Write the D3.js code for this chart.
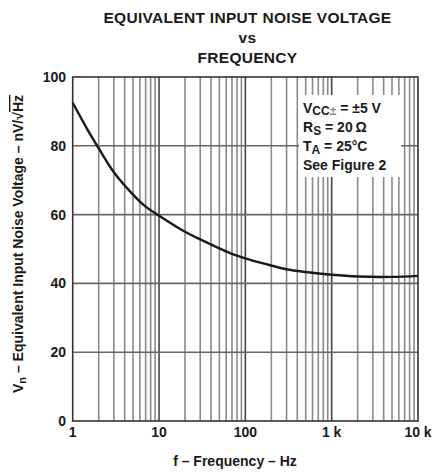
<!DOCTYPE html>
<html>
<head>
<meta charset="utf-8">
<script src="https://cdn.jsdelivr.net/npm/d3@7"></script>
<style>
  body { margin: 0; background: #fff; }
  text { font-family: "Liberation Sans", Arial, sans-serif; font-weight: bold; fill: #1a1a1a; }
</style>
</head>
<body>
<script>
// curve
const freqs  = [1, 1.5, 2, 3, 5, 7, 10, 20, 30, 50, 70, 100, 200, 300, 500, 1000, 2000, 5000, 10000];
const vnoise = [92.5, 84.5, 79.3, 72.3, 65.8, 62.3, 59.7, 55, 52.8, 50.2, 48.6, 47.3, 45.2, 44.1, 43.3, 42.5, 42.0, 41.9, 42.2];

const yTicks = [0, 20, 40, 60, 80, 100];
const xTickVals = [1, 10, 100, 1000, 10000];
const xTickLabels = ["1", "10", "100", "1 k", "10 k"];
const titleLines = ["EQUIVALENT INPUT NOISE VOLTAGE", "vs", "FREQUENCY"];

const W = 435, H = 472;
const plotL = 72.7, plotR = 418, plotT = 77, plotB = 421;

const svg = d3.select("body").append("svg")
    .attr("width", W)
    .attr("height", H);

const x = d3.scaleLog().domain([1, 10000]).range([plotL, plotR]);
const y = d3.scaleLinear().domain([0, 100]).range([plotB, plotT]);

// grid: all 1..9 lines per decade
let minorVals = [];
for (let d = 1; d < 10000; d *= 10) {
    for (let k = 2; k <= 9; k++) minorVals.push(d * k);
}
const majorVals = [10, 100, 1000];

const grid = svg.append("g");
grid.selectAll(".vminor")
    .data(minorVals)
    .enter().append("line")
    .attr("x1", d => x(d)).attr("x2", d => x(d))
    .attr("y1", plotT).attr("y2", plotB)
    .attr("stroke", "#8a8a8a")
    .attr("stroke-width", 1.6);

grid.selectAll(".vmajor")
    .data(majorVals)
    .enter().append("line")
    .attr("x1", d => x(d)).attr("x2", d => x(d))
    .attr("y1", plotT).attr("y2", plotB)
    .attr("stroke", "#444")
    .attr("stroke-width", 1.6);

grid.selectAll(".hgrid")
    .data(yTicks.slice(1, -1))
    .enter().append("line")
    .attr("x1", plotL).attr("x2", plotR)
    .attr("y1", d => y(d)).attr("y2", d => y(d))
    .attr("stroke", "#666")
    .attr("stroke-width", 1.6);

// legend box blanks out the grid
svg.append("rect")
    .attr("x", 299).attr("y", 95)
    .attr("width", 102).attr("height", 82)
    .attr("fill", "#fff");

// frame
svg.append("rect")
    .attr("x", plotL).attr("y", plotT)
    .attr("width", plotR - plotL).attr("height", plotB - plotT)
    .attr("fill", "none")
    .attr("stroke", "#333")
    .attr("stroke-width", 1.6);

// curve
const line = d3.line()
    .x((d, i) => x(freqs[i]))
    .y(d => y(d))
    .curve(d3.curveCatmullRom.alpha(0.5));

svg.append("path")
    .datum(vnoise)
    .attr("d", line)
    .attr("fill", "none")
    .attr("stroke", "#1a1a1a")
    .attr("stroke-width", 2.4);

// y tick labels
svg.selectAll(".ylab")
    .data(yTicks)
    .enter().append("text")
    .attr("x", 66)
    .attr("y", d => y(d))
    .attr("dy", "0.36em")
    .attr("text-anchor", "end")
    .style("font-size", "14px")
    .text(d => d);

// x tick labels
svg.selectAll(".xlab")
    .data(xTickVals)
    .enter().append("text")
    .attr("x", d => x(d))
    .attr("y", 437)
    .attr("text-anchor", "middle")
    .style("font-size", "14px")
    .text((d, i) => xTickLabels[i]);

// title
svg.selectAll(".title")
    .data(titleLines)
    .enter().append("text")
    .attr("x", 247.5)
    .attr("y", (d, i) => 23 + i * 20)
    .attr("text-anchor", "middle")
    .style("font-size", "15.5px")
    .style("letter-spacing", "0.3px")
    .text(d => d);

// axis titles
svg.append("text")
    .attr("x", 235)
    .attr("y", 466)
    .attr("text-anchor", "middle")
    .style("font-size", "14px")
    .text("f \u2013 Frequency \u2013 Hz");

const yt = svg.append("text")
    .attr("transform", "translate(23,244) rotate(-90)")
    .attr("text-anchor", "middle")
    .style("font-size", "14px");
yt.append("tspan").text("V");
yt.append("tspan").attr("dy", 3).style("font-size", "11px").text("n");
yt.append("tspan").attr("dy", -3).text(" \u2013 Equivalent Input Noise Voltage \u2013 nV/\u221A");
yt.append("tspan").style("text-decoration", "overline").text("Hz");

// conditions
const cond = svg.append("g").attr("transform", "translate(303,0)");
const c1 = cond.append("text").attr("y", 113).style("font-size", "14px");
c1.append("tspan").text("V");
c1.append("tspan").attr("dy", 2).style("font-size", "12px").text("CC");
c1.append("tspan").style("font-size", "12px").style("fill", "#888").text("\u00B1");
c1.append("tspan").attr("dy", -2).text(" = \u00B15 V");

const c2 = cond.append("text").attr("y", 132).style("font-size", "14px");
c2.append("tspan").text("R");
c2.append("tspan").attr("dy", 3).style("font-size", "12px").text("S");
c2.append("tspan").attr("dy", -3).text(" = 20\u2009\u03A9");

const c3 = cond.append("text").attr("y", 151).style("font-size", "14px");
c3.append("tspan").text("T");
c3.append("tspan").attr("dy", 3).style("font-size", "12px").text("A");
c3.append("tspan").attr("dy", -3).text(" = 25\u00B0C");

cond.append("text").attr("y", 170).style("font-size", "14px").text("See Figure 2");
</script>
</body>
</html>
